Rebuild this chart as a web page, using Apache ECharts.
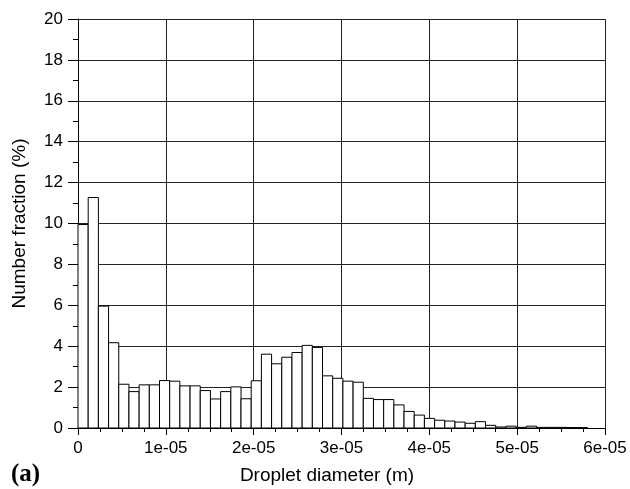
<!DOCTYPE html>
<html>
<head>
<meta charset="utf-8">
<script src="https://cdn.jsdelivr.net/npm/echarts@6/dist/echarts.min.js"></script>
<style>
html, body { margin: 0; padding: 0; background: #fff; }
#chart { width: 630px; height: 489px; }
</style>
</head>
<body>
<div id="chart"></div>
<script>
// histogram bins: 50 bins starting at 0, width 1.16e-06 m
var binStart = 0
var binWidth = 1.16e-06
// number fraction (%) per bin
var fractions = [
  9.95, 11.27, 5.96, 4.17, 2.14, 1.78, 2.11, 2.11, 2.32, 2.29,
  2.06, 2.06, 1.83, 1.42, 1.78, 2.01, 1.43, 2.31, 3.61, 3.14,
  3.46, 3.69, 4.04, 3.94, 2.55, 2.43, 2.29, 2.24, 1.45, 1.39,
  1.39, 1.13, 0.81, 0.63, 0.47, 0.38, 0.34, 0.29, 0.23, 0.31,
  0.13, 0.05, 0.09, 0.03, 0.09, 0.03, 0.03, 0.03, 0.02, 0.02
]
var xTickLabels = ['0', '1e-05', '2e-05', '3e-05', '4e-05', '5e-05', '6e-05']
var yTickLabels = ['0', '2', '4', '6', '8', '10', '12', '14', '16', '18', '20']

var bars = []
for (var i = 0; i < fractions.length; i++) {
  bars.push([binStart + i * binWidth, binStart + (i + 1) * binWidth, fractions[i]])
}

var chart = echarts.init(document.getElementById('chart'))
chart.setOption({
  animation: false,
  textStyle: { fontFamily: 'Liberation Sans, Arial, sans-serif' },
  grid: { left: 78, right: 25, top: 19, bottom: 61 },
  graphic: [{
    type: 'text',
    left: 11,
    top: 462,
    style: { text: '(a)', fontFamily: 'Liberation Serif, Times New Roman, serif', fontWeight: 'bold', fontSize: 25, fill: '#000' }
  }, {
    type: 'text',
    x: 327,
    y: 476,
    style: { text: 'Droplet diameter (m)', fontSize: 19, fill: '#000', align: 'center', verticalAlign: 'middle' }
  }],
  xAxis: {
    type: 'value',
    min: 0,
    max: 6e-05,
    interval: 1e-05,
    axisLine: { lineStyle: { color: '#000', width: 1 } },
    axisTick: { length: 7, lineStyle: { color: '#000' } },
    minorTick: { show: true, splitNumber: 4, length: 4, lineStyle: { color: '#000' } },
    axisLabel: {
      fontSize: 17, color: '#000', margin: 12,
      formatter: function (v) { return xTickLabels[Math.round(v / 1e-05)] }
    },
    splitLine: { show: true, lineStyle: { color: '#222', width: 1 } }
  },
  yAxis: {
    type: 'value',
    min: 0,
    max: 20,
    interval: 2,
    name: 'Number fraction (%)',
    nameLocation: 'middle',
    nameGap: 49,
    nameTextStyle: { fontSize: 19, color: '#000' },
    axisLine: { show: true, lineStyle: { color: '#000', width: 1 } },
    axisTick: { show: true, length: 10, lineStyle: { color: '#000' } },
    minorTick: { show: true, splitNumber: 2, length: 5, lineStyle: { color: '#000' } },
    axisLabel: {
      fontSize: 17, color: '#000', margin: 15,
      formatter: function (v) { return yTickLabels[Math.round(v / 2)] }
    },
    splitLine: { show: true, lineStyle: { color: '#222', width: 1 } }
  },
  series: [{
    type: 'custom',
    data: bars,
    encode: { x: [0, 1], y: 2 },
    renderItem: function (params, api) {
      var p0 = api.coord([api.value(0), 0])
      var p1 = api.coord([api.value(1), api.value(2)])
      return {
        type: 'rect',
        shape: { x: p0[0], y: p1[1], width: p1[0] - p0[0], height: p0[1] - p1[1] },
        style: { fill: '#fff', stroke: '#000', lineWidth: 1 }
      }
    }
  }]
})
</script>
</body>
</html>
